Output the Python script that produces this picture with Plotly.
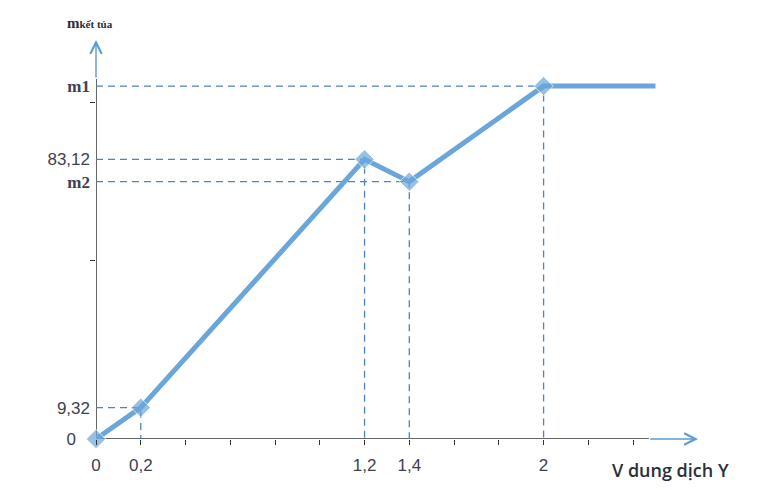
import plotly.graph_objects as go

# ---- data ----
x_vals = [0, 0.2, 1.2, 1.4, 2, 2.5]
y_vals = [0, 9.32, 83.12, 76.5, 104.9, 104.9]
marker_sizes = [15, 15, 15, 15, 15, 0]

x_tickvals = [0, 0.2, 1.2, 1.4, 2]
x_ticktext = ["0", "0,2", "1,2", "1,4", "2"]
x_tick_marks = [0, 0.2, 0.4, 0.6, 0.8, 1.0, 1.2, 1.4, 1.6, 1.8, 2.0, 2.2, 2.4]

y_tickvals = [0, 9.32, 76.5, 83.12, 104.9]
y_ticktext = ["0   ", "9,32",
              "<span style='font-family:Liberation Serif;font-weight:bold'>m2</span>",
              "83,12",
              "<span style='font-family:Liberation Serif;font-weight:bold'>m1</span>"]
y_tick_marks = [53, 100]

x_title = "V dung dịch Y"
y_title = "m<span style='font-size:11px'>kết tủa</span>"

X_MAX = 2.69
Y_MAX = 118.6
X_DARK_END = 2.47
Y_DARK_END = 107

LINE_COLOR = "#6aa6da"
GUIDE_COLOR = "#4a84c6"
ARROW_COLOR = "#5d9bd6"
AXIS_COLOR = "#333333"
TEXT_COLOR = "#3b4250"

# guide lines (dashed) from each key point to both axes
gx, gy = [], []
for xv, yv in zip(x_vals[1:5], y_vals[1:5]):
    gx += [0, xv, xv, None]
    gy += [yv, yv, 0, None]

fig = go.Figure()
fig.add_trace(go.Scatter(x=gx, y=gy, mode="lines",
                         line=dict(color=GUIDE_COLOR, width=1.3, dash="7px,5px"),
                         hoverinfo="skip", showlegend=False))
fig.add_trace(go.Scatter(x=x_vals, y=y_vals, mode="lines+markers",
                         line=dict(color=LINE_COLOR, width=5),
                         marker=dict(symbol="diamond", size=marker_sizes, color=LINE_COLOR),
                         cliponaxis=False, showlegend=False))
# invisible trace to activate the overlay tick axes
fig.add_trace(go.Scatter(x=[0], y=[0], xaxis="x2", yaxis="y2", mode="markers",
                         marker=dict(size=0, opacity=0), showlegend=False, hoverinfo="skip"))

tick_font = dict(family="Liberation Sans, Arial, sans-serif", size=17, color=TEXT_COLOR)

fig.update_layout(
    width=771, height=490,
    margin=dict(l=88, r=81, t=32, b=59),
    paper_bgcolor="white", plot_bgcolor="white",
    xaxis=dict(range=[0, X_MAX], showgrid=False, zeroline=False, showline=False,
               tickvals=x_tickvals, ticktext=x_ticktext, ticks="", automargin=False,
               tickfont=tick_font, ticklabelstandoff=14),
    yaxis=dict(range=[0, Y_MAX], showgrid=False, zeroline=False, showline=False,
               tickvals=y_tickvals, ticktext=y_ticktext, ticks="", automargin=False,
               tickfont=tick_font, ticklabelstandoff=5),
    xaxis2=dict(range=[0, X_MAX], overlaying="x", showgrid=False, zeroline=False,
                showticklabels=False, tickvals=x_tick_marks, ticks="outside", automargin=False,
                ticklen=5, tickwidth=1.2, tickcolor=AXIS_COLOR, anchor="y2", side="bottom"),
    yaxis2=dict(range=[0, Y_MAX], overlaying="y", showgrid=False, zeroline=False,
                showticklabels=False, tickvals=y_tick_marks, ticks="outside", automargin=False,
                ticklen=5, tickwidth=1.2, tickcolor=AXIS_COLOR, anchor="x2", side="left"),
    shapes=[
        dict(type="line", xref="x", yref="y", x0=0, y0=0, x1=X_DARK_END, y1=0,
             line=dict(color=AXIS_COLOR, width=1.5), layer="below"),
        dict(type="line", xref="x", yref="y", x0=0, y0=0, x1=0, y1=Y_DARK_END,
             line=dict(color=AXIS_COLOR, width=1.5), layer="below"),
    ],
    annotations=[
        dict(x=X_MAX, y=0, ax=X_DARK_END, ay=0, xref="x", yref="y", axref="x", ayref="y",
             text="", showarrow=True, arrowhead=5, arrowsize=1.6, arrowwidth=1.4,
             arrowcolor=ARROW_COLOR, standoff=0),
        dict(x=0, y=Y_MAX, ax=0, ay=Y_DARK_END, xref="x", yref="y", axref="x", ayref="y",
             text="", showarrow=True, arrowhead=5, arrowsize=1.6, arrowwidth=1.4,
             arrowcolor=ARROW_COLOR, standoff=0),
        dict(x=X_MAX, y=0, xref="x", yref="y", xanchor="right", yanchor="top",
             xshift=33, yshift=-17, text=x_title, showarrow=False,
             font=dict(family="Open Sans, sans-serif", size=18, weight=600, color="#2a2f3a")),
        dict(x=0, y=Y_MAX, xref="x", yref="y", xanchor="center", yanchor="bottom",
             xshift=-6, yshift=7, text=y_title, showarrow=False,
             font=dict(family="Liberation Serif, serif", size=15, weight="bold", color="#2a2f3a")),
    ],
)

fig.write_html("out.html")
